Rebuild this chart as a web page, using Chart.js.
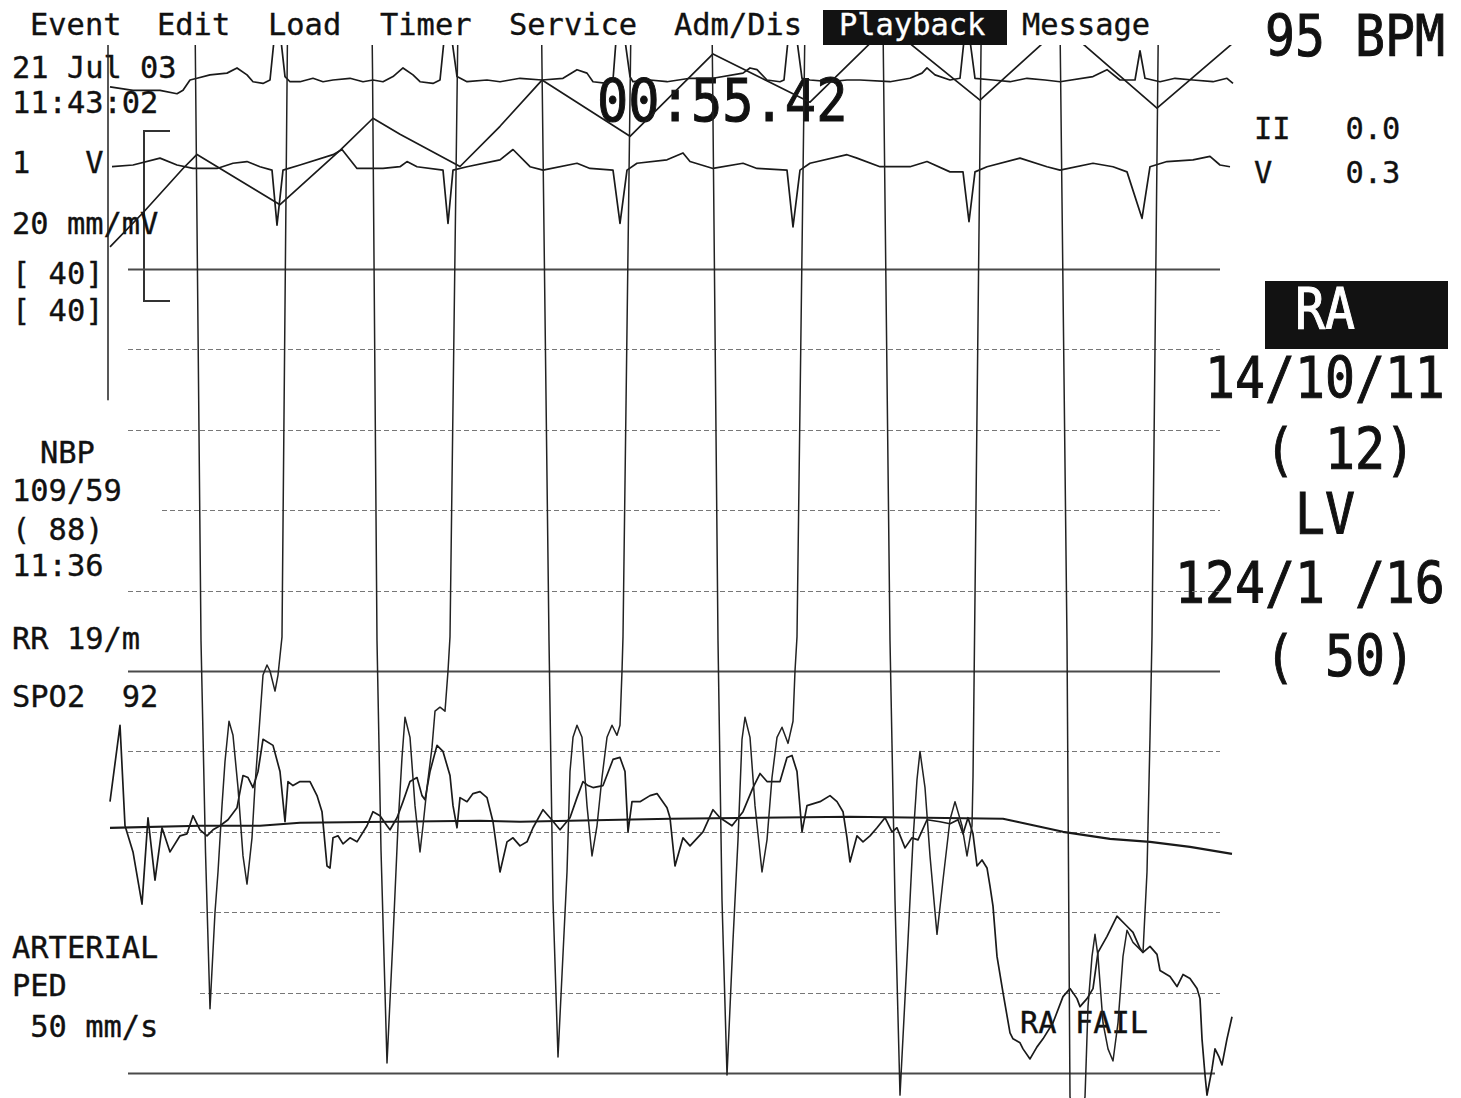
<!DOCTYPE html>
<html><head><meta charset="utf-8">
<script src="https://cdn.jsdelivr.net/npm/chart.js@4.4.1/dist/chart.umd.min.js"></script>
<style>
html,body{margin:0;padding:0;background:#fff;}
#wrap{position:relative;width:1461px;height:1098px;overflow:hidden;background:#fff;}
#c{position:absolute;left:0;top:0;}
.t{position:absolute;white-space:pre;font-family:"DejaVu Sans Mono",monospace;line-height:1;color:#111;transform-origin:0 0;-webkit-text-stroke:0.35px #111;}
.t.big{-webkit-text-stroke:0.9px #111;}
.t.inv{-webkit-text-stroke:0.35px #fff;}
.box{position:absolute;background:#121212;}
</style></head><body>
<div id="wrap">
<div class="box" style="left:823px;top:10px;width:184px;height:35px"></div>
<div class="box" style="left:1265px;top:281px;width:183px;height:68px"></div>
<div style="position:absolute;left:143px;top:130px;width:27px;height:172px;border:2px solid #333;border-right:none;box-sizing:border-box"></div>
<div id="labels"></div>
<canvas id="c" width="1461" height="1098"></canvas>
</div>
<script>
// ---------- DATA (x = sweep sample index, pressures in mmHg, ECG in mV) ----------
const lvSamples = [108,108,150,186,195.5,201,205.5,210,215,218,222,225,229,233,238,243,247,252,255,259,263,267,270,275,278,282,
 289,300,330,360,372.5,377,381,387,393,398,402,405,410,415,420,423,427,432,435,440,445,448,450,
 460,470,500,530,542,549,553,558,567,570,573,577,582,587,592,597,602,607,612,617,620,622,623,
 633,645,675,700,712.5,718,722,727,733,738,742,745,750,755,762,767,772,777,782,788,793,795,797,
 807,820,850,871,883.5,890,895,900,908,913,917,920,925,930,937,943,950,955,962,967,972,973,
 983,995,1025,1048,1060.5,1067,1070,1077,1085,1088,1092,1095,1098,1103,1108,1113,1118,1123,1127,1133,1143,1147,1150,1152,
 1160,1175,1205,1233];
const lvPressure = [56,33.5,null,100,50,21.5,11,3.2,8.0,10.0,13.3,15.5,17.5,16.8,14.2,10.8,9.4,11.7,14.3,17.0,19.8,20.3,20.0,19.0,19.8,21.7,
 60,120,124,105,50,21.5,11.1,0.5,6.7,12.3,15.7,17.7,16.7,13.3,11.0,12.3,14.2,16.2,18.0,18.2,18.0,20.0,21.7,
 60,120,124,105,50,21.5,8.6,0.8,10.0,15.0,16.7,17.3,16.7,13.3,10.8,12.3,14.7,16.7,17.3,16.8,17.3,20.0,21.7,
 60,120,124,105,50,21.5,8.6,-0.1,6.6,11.6,16.6,17.7,16.7,13.3,10.0,11.6,14.7,16.7,17.2,16.4,17.5,20.0,21.7,
 60,120,124,105,50,21.5,8.6,-1.1,6.6,11.6,14.6,16.0,14.2,10.8,6.9,9.6,12.6,13.5,12.3,10.8,12.3,14.7,
 60,120,124,105,50,21.5,-1.2,-2.5,-1.2,3.3,5.8,6.9,5.8,2.5,1.2,0.6,2.5,5.8,7.1,6.5,6.0,10.0,16.7,21.7,
 60,120,124,118];

const raSamples = [110,120,125,133,142,148,155,162,170,180,187,193,200,207,213,220,228,237,243,248,253,258,263,273,280,285,288,293,300,310,317,322,327,330,333,338,343,350,357,367,373,380,387,390,397,403,410,417,422,425,430,437,443,450,453,457,460,467,473,480,487,493,500,507,513,520,527,533,543,550,560,570,577,583,588,593,603,613,620,625,628,632,640,650,657,667,670,675,683,690,703,713,720,732,743,753,760,767,780,787,792,797,802,807,820,830,837,843,847,850,857,863,870,877,885,892,897,905,912,918,927,940,950,958,963,968,973,977,982,987,990,993,997,1003,1010,1013,1020,1023,1030,1037,1043,1053,1063,1070,1077,1080,1087,1093,1098,1107,1117,1127,1133,1140,1143,1150,1157,1160,1170,1177,1183,1190,1197,1200,1202,1205,1207,1212,1215,1219,1222,1227,1232];
const raPressure = [13.5,17.3,12.3,11.0,8.4,12.7,9.6,12.2,11.0,11.8,11.9,12.8,12.1,11.8,12.1,12.3,12.6,13.2,14.8,14.7,14.2,15.0,16.6,16.3,15.0,12.5,14.5,14.3,14.5,14.5,13.8,13.0,10.3,10.2,11.7,11.8,11.4,11.7,11.5,12.3,13.0,12.8,12.3,12.1,12.7,13.5,14.5,14.7,13.8,13.6,15.0,16.3,16.0,14.8,13.3,12.2,13.7,13.5,13.9,14.0,13.7,12.5,10.0,11.5,11.7,11.3,11.5,12.2,13.1,12.7,12.1,12.7,13.7,14.5,14.3,14.2,14.3,15.6,15.7,15.0,12.0,13.5,13.5,13.8,13.9,13.2,12.7,10.3,11.7,11.3,12.0,13.1,12.7,12.3,13.0,14.2,14.9,14.5,14.5,15.7,15.8,15.0,12.0,13.3,13.5,13.8,13.5,13.0,11.7,10.5,11.8,11.5,11.8,12.2,12.7,12.0,12.2,11.2,11.7,11.6,12.6,12.5,12.4,12.6,11.9,12.7,11.9,10.3,10.6,10.2,9.3,8.3,5.8,4.0,2.0,1.7,1.5,1.2,0.7,1.3,1.7,2.5,3.8,4.2,3.7,3.3,3.7,4.2,6.0,6.8,7.8,7.3,7.0,6.2,6.0,6.3,5.9,5.1,4.8,4.3,4.9,4.7,4.2,3.7,1.7,-0.1,-1.1,0.2,1.2,0.8,0.4,1.7,2.8];

const artSamples = [110,200,260,300,480,520,670,850,1003,1017,1063,1110,1150,1190,1232];
const artPressure = [12.2,12.3,12.3,12.45,12.55,12.5,12.65,12.75,12.65,12.5,12.0,11.65,11.5,11.25,10.9];

const paSamples = [110,143,183,197,280,340,373,400,460,500,542,630,713,810,888,980,1062,1157,1232];
const paPressure = [41.1,42.8,45.0,45.7,43.2,45.9,47.5,46.7,45.1,47.1,49.4,46.6,50.7,48.3,52.1,48.4,52.1,48.0,51.2];

const ecgIISamples = [110,133,160,177,183,190,197,210,227,237,247,253,263,270,274,281,285,290,300,313,323,333,350,363,373,383,393,403,413,420,433,440,444,452,457,467,487,500,520,542,563,577,587,593,607,613,616,625,630,633,650,667,690,713,743,750,757,767,780,784,788,797,802,810,830,847,860,890,910,922,927,935,950,960,964,970,975,993,1010,1027,1045,1060,1093,1107,1120,1135,1140,1145,1160,1175,1193,1213,1220,1227,1233];
const ecgIIValues = [-0.04,-0.06,-0.06,-0.08,-0.06,0,0.01,0.03,0.04,0.07,0.03,-0.01,-0.02,0,0.23,0.23,0.02,-0.01,-0.01,0.01,-0.01,0,0.01,-0.01,0,-0.01,0.02,0.07,0.03,-0.01,-0.02,0,0.23,0.23,0.02,-0.01,0,-0.01,0.01,0,0.01,0.06,0.04,-0.01,-0.02,0,0.23,0.23,0.02,-0.01,0,-0.01,0.01,0.01,0.04,0.07,0.06,0,-0.01,0,0.23,0.23,0.01,0,-0.01,0,0,-0.01,0.01,0.04,0.07,0.03,0,0.01,0.23,0.23,0.01,0,-0.01,0.01,0,-0.01,0.02,0.06,0,0,0.17,0.01,-0.01,0.01,0,-0.01,0,0.01,-0.02];

const ecgVSamples = [112,133,160,177,193,217,233,247,260,272,277,283,300,333,342,357,383,400,407,417,443,448,453,467,500,513,530,543,577,590,613,620,627,637,667,683,690,713,743,757,787,793,800,810,847,857,880,910,927,950,963,969,975,987,1020,1047,1060,1093,1113,1127,1142,1150,1167,1193,1210,1220,1230];
const ecgVValues = [-0.01,0,0.04,0,-0.02,-0.02,0.01,0.02,-0.01,-0.03,-0.35,-0.03,0,0.06,0.09,-0.02,-0.02,-0.01,0.02,-0.01,-0.03,-0.34,-0.03,-0.01,0.03,0.09,-0.01,-0.03,0.01,-0.02,-0.03,-0.34,-0.03,0.01,0.03,0.07,0.02,-0.02,0.01,-0.02,-0.03,-0.36,-0.03,0.01,0.06,0.04,-0.01,-0.01,0.02,-0.04,-0.04,-0.33,-0.04,-0.01,0.04,-0.01,-0.03,0.01,-0.01,-0.04,-0.31,-0.01,0.02,0.03,0.05,0,-0.01];

const gridPressures = [0,4,8,12,16,20,24,28,32,36,40];

// ---------- LAYOUT / SCALE CONSTANTS ----------
const CANVAS_H = 1098, PLOT_TOP = 45;
const P_ZERO_PX = 1073, P_PX_PER_MMHG = 20.1;
const ECG_PX_PER_MV = 172, II_ZERO_PX = 80, V_ZERO_PX = 165;
const gridStart = {4:200, 8:200, 28:162};

function series(xs, ys){ return xs.map((x,i)=>({x:x, y:ys[i]})); }
function axis(zeroPx, pxPerUnit){
  return {type:'linear', display:false,
    min: -(CANVAS_H - zeroPx)/pxPerUnit, max: (zeroPx - PLOT_TOP)/pxPerUnit};
}

const gridPlugin = {
  id:'monitorGrid',
  beforeDatasetsDraw(chart){
    const {ctx, scales} = chart; const xs = scales.x, ps = scales.p;
    ctx.save();
    gridPressures.forEach(v=>{
      const major = v % 20 === 0;
      const y = Math.round(ps.getPixelForValue(v)) + 0.5;
      const x0 = xs.getPixelForValue(gridStart[v] !== undefined ? gridStart[v] : 128);
      const x1 = xs.getPixelForValue(v === 0 ? 1215 : 1220);
      ctx.beginPath();
      ctx.setLineDash(major ? [] : [5,3]);
      ctx.strokeStyle = major ? '#4a4a4a' : '#777';
      ctx.lineWidth = major ? 2 : 1.2;
      ctx.moveTo(x0,y); ctx.lineTo(x1,y); ctx.stroke();
    });
    ctx.restore();
  }
};

const base = {pointRadius:0, tension:0, fill:false, borderJoinStyle:'round', spanGaps:false};
new Chart(document.getElementById('c'), {
  type:'line',
  data:{datasets:[
    Object.assign({label:'LV', data:series(lvSamples, lvPressure), yAxisID:'p', borderColor:'#222', borderWidth:1.5}, base),
    Object.assign({label:'RA', data:series(raSamples, raPressure), yAxisID:'p', borderColor:'#1a1a1a', borderWidth:1.7}, base),
    Object.assign({label:'ART', data:series(artSamples, artPressure), yAxisID:'p', borderColor:'#1a1a1a', borderWidth:2.2}, base),
    Object.assign({label:'PA', data:series(paSamples, paPressure), yAxisID:'p', borderColor:'#1a1a1a', borderWidth:1.7}, base),
    Object.assign({label:'II', data:series(ecgIISamples, ecgIIValues), yAxisID:'ii', borderColor:'#1a1a1a', borderWidth:1.7}, base),
    Object.assign({label:'V', data:series(ecgVSamples, ecgVValues), yAxisID:'v', borderColor:'#1a1a1a', borderWidth:1.7}, base)
  ]},
  options:{
    responsive:false, animation:false, events:[],
    layout:{padding:{top:PLOT_TOP, left:0, right:0, bottom:0}},
    plugins:{legend:{display:false}, tooltip:{enabled:false}},
    scales:{
      x:{type:'linear', display:false, min:0, max:1461},
      p:axis(P_ZERO_PX, P_PX_PER_MMHG),
      ii:axis(II_ZERO_PX, ECG_PX_PER_MV),
      v:axis(V_ZERO_PX, ECG_PX_PER_MV)
    }
  },
  plugins:[gridPlugin]
});

// ---------- TEXT ----------
const S = {size:30.4, sy:1.0}, B = {size:49.8, sy:1.16, big:true}, T = {size:52, sy:1.13, big:true};
const labelSpecs = [
  ['Event',30,14,S],['Edit',157,14,S],['Load',268,14,S],['Timer',380,14,S],['Service',509,14,S],['Adm/Dis',674,14,S],
  ['Playback',839,14,S,'#fff'],['Message',1022,14,S],
  ['21 Jul 03',12,57,S],['11:43:02',12,92,S],['1   V',12,152,S],['20 mm/mV',12,213,S],['[ 40]',12,263,S],['[ 40]',12,300,S],
  ['NBP',40,442,S],['109/59',12,480,S],['( 88)',12,519,S],['11:36',12,555,S],['RR 19/m',12,628,S],['SPO2  92',12,686,S],
  ['ARTERIAL',12,937,S],['PED',12,975,S],[' 50 mm/s',12,1016,S],
  ['II   0.0',1254,118,S],['V    0.3',1254,162,S],['RA FAIL',1020,1012,S],
  ['95 BPM',1265,15,B],['RA',1295,288,B,'#fff'],['14/10/11',1205,357,B],['( 12)',1265,428,B],['LV',1295,493,B],
  ['124/1 /16',1175,562,B],['( 50)',1265,635,B],['00:55.42',597,78,T]
];
const host = document.getElementById('labels');
labelSpecs.forEach(([txt,x,cap,f,col])=>{
  const d = document.createElement('div');
  d.className = 't' + (f.big ? ' big' : '') + (col ? ' inv' : '');
  d.textContent = txt;
  d.style.left = x + 'px';
  d.style.top = (cap - 0.117*f.size*f.sy) + 'px';
  d.style.fontSize = f.size + 'px';
  d.style.transform = 'scaleY(' + f.sy + ')';
  if (col) { d.style.color = col; d.style.webkitTextStroke = (f.big ? '0.9px ' : '0.35px ') + col; }
  host.appendChild(d);
});
</script>
</body></html>
